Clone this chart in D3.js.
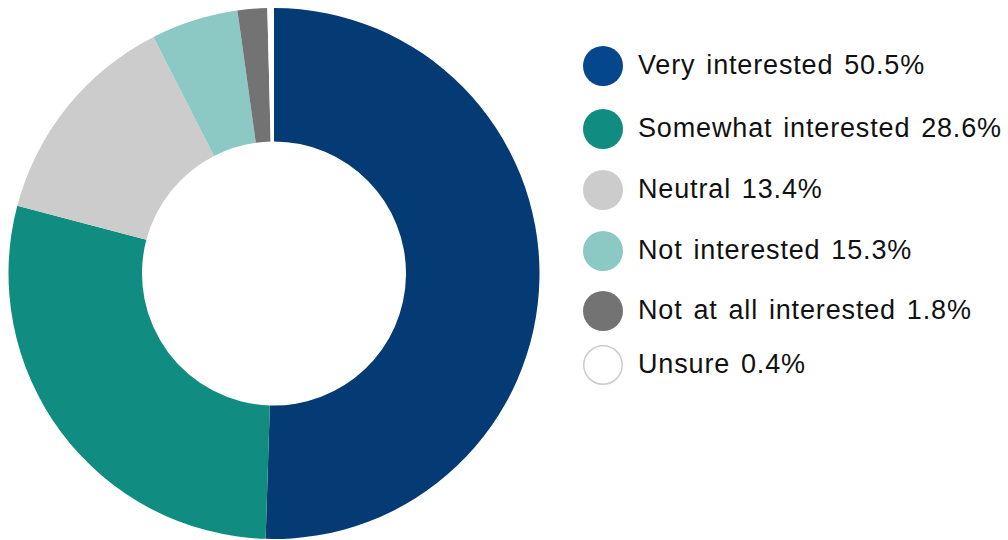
<!DOCTYPE html>
<html>
<head>
<meta charset="utf-8">
<script src="https://cdn.jsdelivr.net/npm/d3@7"></script>
<style>
  html, body { margin: 0; padding: 0; background: #fff; }
  svg { display: block; }
</style>
</head>
<body>
<svg id="chart" width="1008" height="540"></svg>
<script>
// Data
const categories = ["Very interested", "Somewhat interested", "Neutral", "Not interested", "Not at all interested", "Unsure"];
// slice shares (sum = 100)
const values = [50.5, 28.6, 13.4, 5.3, 1.8, 0.4];
// legend labels as printed in the reference
const legendLabels = ["Very interested 50.5%", "Somewhat interested 28.6%", "Neutral 13.4%", "Not interested 15.3%", "Not at all interested 1.8%", "Unsure 0.4%"];
const sliceColors = ["#043b75", "#118c80", "#cccccc", "#8cc8c4", "#737373", "#ffffff"];
const legendColors = ["#04478c", "#118c80", "#cccccc", "#8cc8c4", "#737373", "#ffffff"];

const svg = d3.select("#chart");

// Donut
const cx = 274, cy = 273.5, outerR = 265.5, innerR = 132;
const pie = d3.pie().sort(null).value(d => d.value);
const arc = d3.arc().innerRadius(innerR).outerRadius(outerR);
const arcs = pie(categories.map((c, i) => ({ name: c, value: values[i], i })));

svg.append("g")
  .attr("transform", `translate(${cx},${cy})`)
  .selectAll("path")
  .data(arcs)
  .join("path")
  .attr("d", arc)
  .attr("fill", d => sliceColors[d.data.i]);

// Legend
const legendYs = [66, 129, 190, 251, 311, 365];
const legendX = 603, legendR = 20;
const lg = svg.append("g");
const rows = lg.selectAll("g")
  .data(categories)
  .join("g")
  .attr("transform", (d, i) => `translate(${legendX},${legendYs[i]})`);

rows.append("circle")
  .attr("r", (d, i) => i === 5 ? legendR - 0.75 : legendR)
  .attr("fill", (d, i) => legendColors[i])
  .attr("stroke", (d, i) => i === 5 ? "#cccccc" : "none")
  .attr("stroke-width", 1.5);

rows.append("text")
  .attr("x", 35)
  .attr("y", 7.5)
  .attr("font-family", "Liberation Sans, Arial, Helvetica, sans-serif")
  .attr("font-size", 27)
  .attr("letter-spacing", 0.85)
  .attr("word-spacing", 2.5)
  .attr("fill", "#111")
  .text((d, i) => legendLabels[i]);
</script>
</body>
</html>
